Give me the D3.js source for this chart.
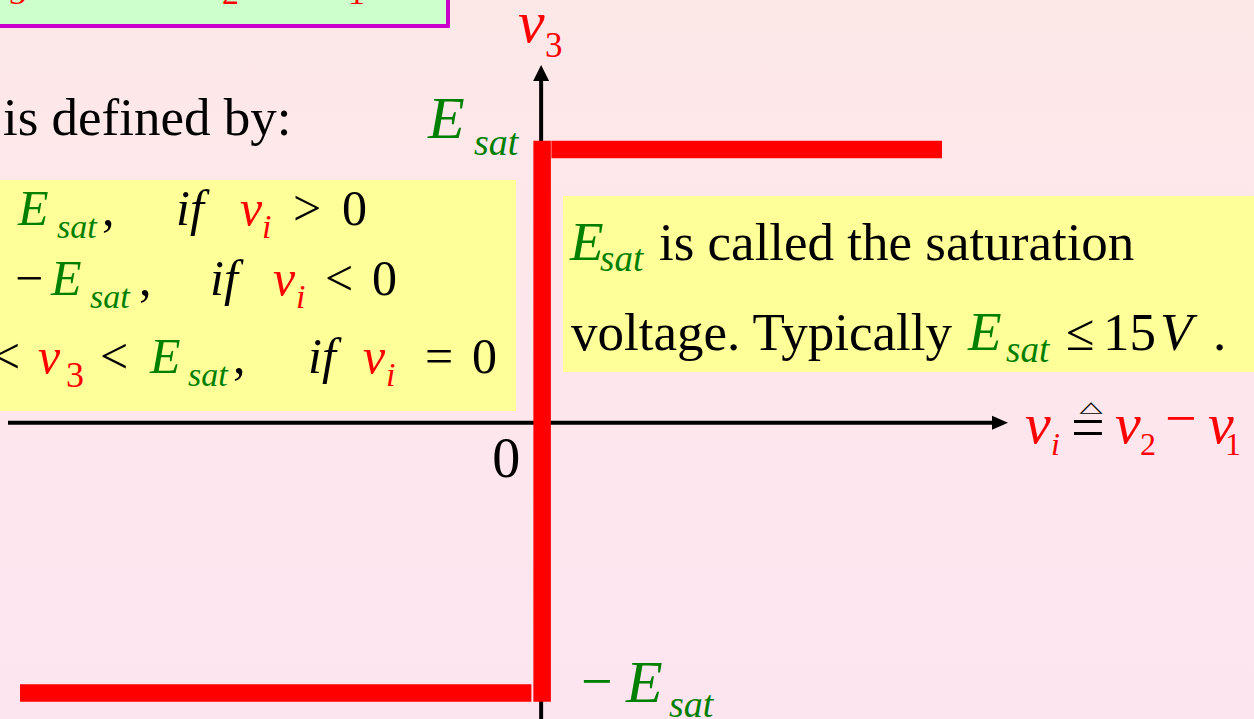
<!DOCTYPE html>
<html><head><meta charset="utf-8">
<script src="https://cdn.jsdelivr.net/npm/d3@7/dist/d3.min.js"></script>
<style>html,body{margin:0;padding:0;overflow:hidden;background:#fde7ea}svg{display:block}</style>
</head><body>
<script>
// ---- data ----
const viValues = [-1.3, 0, 0, 1.0];     // input differential voltage (normalised)
const v3Values = [-1, -1, 1, 1];        // output, in units of E_sat
const yTickValues = [1, -1];            // E_sat, -E_sat
const xTickValues = [0];
const xTickLabels = ["0"];

const W = 1254, H = 719;
const FONT = "'Times New Roman','Liberation Serif',serif";
const RED = "#ff0000", GREEN = "#008000", BLACK = "#000";

const svg = d3.select("body").append("svg").attr("width", W).attr("height", H);
const defs = svg.append("defs");
const bg = defs.append("linearGradient").attr("id","bg").attr("x1",0).attr("y1",0).attr("x2",0).attr("y2",1);
bg.append("stop").attr("offset","0%").attr("stop-color","#fde8e8");
bg.append("stop").attr("offset","100%").attr("stop-color","#fde5f0");
svg.append("rect").attr("width",W).attr("height",H).attr("fill","url(#bg)");

const x = d3.scaleLinear().domain([-1.3, 1.0]).range([20, 942]);
const y = d3.scaleLinear().domain([-1, 1]).range([693, 149.5]);

function t(px, py, str, o = {}) {
  const el = svg.append("text").attr("x", px).attr("y", py)
    .attr("font-family", FONT).attr("font-size", o.size || 50)
    .attr("fill", o.fill || BLACK)
    .attr("font-style", o.italic ? "italic" : "normal")
    .text(str);
  if (o.anchor) el.attr("text-anchor", o.anchor);
  if (o.transform) el.attr("transform", o.transform);
  return el;
}

// ---- green box (mostly cut off at top) ----
svg.append("rect").attr("x",-10).attr("y",-40).attr("width",458).attr("height",66)
  .attr("fill","#ccffcc").attr("stroke","#cc00cc").attr("stroke-width",4);
t(-30, -14, "v", {size:56, fill:RED, italic:true});
t(9, 4, "3", {size:34, fill:RED});
t(60, -14, "= A", {size:56});
t(176, -19, "(", {size:56});
t(196, -14, "v", {size:56, fill:RED, italic:true});
t(222, 4, "2", {size:34, fill:RED});
t(270, -14, "−", {size:56});
t(322, -14, "v", {size:56, fill:RED, italic:true});
t(348, 4, "1", {size:34, fill:RED});
t(373, -19, ")", {size:56});

// ---- "is defined by:" ----
t(3, 135, "is defined by:", {size:53});

// ---- left yellow box with the piecewise definition ----
svg.append("rect").attr("x",-5).attr("y",180).attr("width",521).attr("height",231).attr("fill","#ffff99");
const SUB = 34;
// line 1
t(18, 225, "E", {fill:GREEN, italic:true});
t(57, 238, "sat", {size:SUB, fill:GREEN, italic:true});
t(102, 225, ",");
t(176, 225, "if", {italic:true});
t(240, 225, "v", {fill:RED, italic:true});
t(262, 238, "i", {size:SUB, fill:RED, italic:true});
t(293, 225, ">");
t(342, 225, "0");
// line 2
t(15, 295, "−");
t(51, 295, "E", {fill:GREEN, italic:true});
t(90, 308, "sat", {size:SUB, fill:GREEN, italic:true});
t(139, 295, ",");
t(210, 295, "if", {italic:true});
t(273, 295, "v", {fill:RED, italic:true});
t(296, 308, "i", {size:SUB, fill:RED, italic:true});
t(325, 295, "<");
t(372, 295, "0");
// line 3
t(-8, 373, "<");
t(38, 373, "v", {fill:RED, italic:true});
t(66, 387, "3", {size:36, fill:RED});
t(100, 373, "<");
t(150, 373, "E", {fill:GREEN, italic:true});
t(188, 386, "sat", {size:SUB, fill:GREEN, italic:true});
t(233, 373, ",");
t(308, 373, "if", {italic:true});
t(363, 373, "v", {fill:RED, italic:true});
t(386, 386, "i", {size:SUB, fill:RED, italic:true});
t(425, 373, "=");
t(472, 373, "0");

// ---- right yellow box ----
svg.append("rect").attr("x",563).attr("y",196).attr("width",700).attr("height",176).attr("fill","#ffff99");
t(570, 260, "E", {size:55, fill:GREEN, italic:true});
t(600, 271, "sat", {size:37, fill:GREEN, italic:true});
t(659, 260, "is called the saturation", {size:53});
t(571, 350, "voltage. Typically", {size:53});
t(968, 350, "E", {size:55, fill:GREEN, italic:true});
t(1006, 362, "sat", {size:37, fill:GREEN, italic:true});
t(1066, 350, "≤", {size:52});
t(1103, 350, "15", {size:53});
t(1160, 350, "V", {size:53, italic:true});
t(1213, 350, ".", {size:53});

// ---- axes ----
const ax0 = x(0), ay0 = y(0) + 1.5;
svg.append("line").attr("x1",8).attr("x2",994).attr("y1",ay0).attr("y2",ay0)
  .attr("stroke",BLACK).attr("stroke-width",4);
svg.append("path").attr("d",`M1008,${ay0} L992,${ay0-7} L992,${ay0+7} Z`).attr("fill",BLACK);
svg.append("line").attr("x1",ax0).attr("x2",ax0).attr("y1",H).attr("y2",79)
  .attr("stroke",BLACK).attr("stroke-width",4);
svg.append("path").attr("d",`M${ax0},65 L${ax0-8},81 L${ax0+8},81 Z`).attr("fill",BLACK);

// ---- transfer characteristic ----
const SW = 17.5;
for (let i = 0; i < viValues.length - 1; i++) {
  let x1 = x(viValues[i]), x2 = x(viValues[i+1]);
  let y1 = y(v3Values[i]), y2 = y(v3Values[i+1]);
  const vertical = viValues[i] === viValues[i+1];
  if (!vertical) {
    if (viValues[i+1] === 0) x2 -= SW/2 + 1;
    if (viValues[i] === 0) x1 += SW/2 + 1.5;
  }
  svg.append("line").attr("x1",x1 + (vertical?1:0)).attr("x2",x2 + (vertical?1:0))
    .attr("y1",y1).attr("y2",y2)
    .attr("stroke",RED).attr("stroke-width",SW)
    .attr("stroke-linecap", vertical ? "square" : "butt");
}

// ---- tick labels ----
t(x(xTickValues[0]) - 49, 477, xTickLabels[0], {size:56});
t(428, y(yTickValues[0]) - 11.5, "E", {size:60, fill:GREEN, italic:true});
t(474, y(yTickValues[0]) + 5.5, "sat", {size:38, fill:GREEN, italic:true});
t(581, y(yTickValues[1]) + 7, "−", {size:56, fill:GREEN});
t(626, y(yTickValues[1]) + 9, "E", {size:60, fill:GREEN, italic:true});
t(669, y(yTickValues[1]) + 24, "sat", {size:38, fill:GREEN, italic:true});

// ---- axis titles ----
t(518, 42, "v", {size:60, fill:RED, italic:true});
t(545, 57, "3", {size:35, fill:RED});

t(1025, 443, "v", {size:58, fill:RED, italic:true});
t(1051, 455, "i", {size:32, fill:RED, italic:true});
t(1071, 447, "=", {size:60});
t(1091, 412, "△", {size:30, anchor:"middle", transform:"translate(0,206) scale(1,0.5)"})
  .attr("font-family","DejaVu Sans").attr("font-weight","bold");
t(1115, 443, "v", {size:58, fill:RED, italic:true});
t(1140, 455, "2", {size:32, fill:RED});
t(1165, 437, "−", {size:56, fill:RED});
t(1208, 443, "v", {size:58, fill:RED, italic:true});
t(1225, 455, "1", {size:32, fill:RED});
</script>
</body></html>
